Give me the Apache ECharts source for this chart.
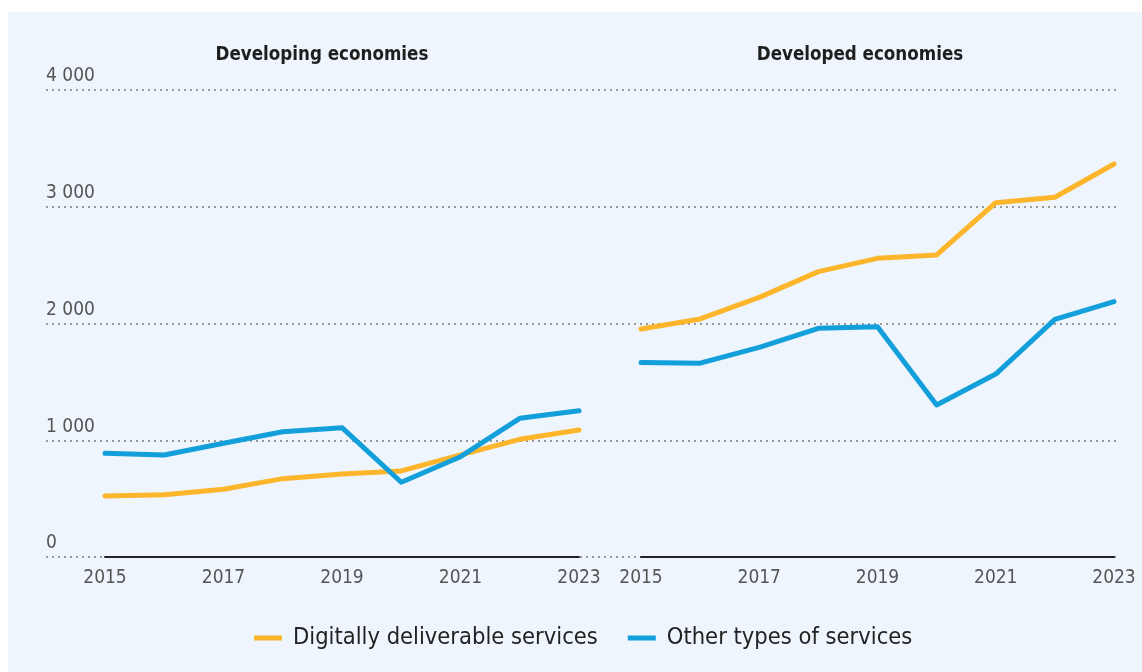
<!DOCTYPE html>
<html>
<head>
<meta charset="utf-8">
<script src="https://cdn.jsdelivr.net/npm/echarts@6/dist/echarts.min.js"></script>
<style>
  html, body { margin: 0; padding: 0; background: #ffffff; }
  #chart { width: 1142px; height: 672px; }
</style>
</head>
<body>
<div id="chart"></div>
<script>
// Services exports by type, billions of US dollars
const years = ['2015', '2016', '2017', '2018', '2019', '2020', '2021', '2022', '2023'];
const panelTitles = ['Developing economies', 'Developed economies'];
const seriesNames = ['Digitally deliverable services', 'Other types of services'];

const developingDigital = [522, 534, 580, 671, 711, 737, 874, 1008, 1088];
const developingOther = [888, 874, 974, 1073, 1108, 640, 859, 1188, 1253];
const developedDigital = [1953, 2039, 2224, 2444, 2558, 2587, 3035, 3081, 3366];
const developedOther = [1665, 1660, 1796, 1959, 1973, 1302, 1567, 2036, 2187];

const yTicks = [0, 1000, 2000, 3000, 4000];

const ORANGE = '#FDB52B';
const BLUE = '#129FDA';
const NARROW = '"DejaVu Sans Condensed", "Liberation Sans", sans-serif';

const chart = echarts.init(document.getElementById('chart'), null, { renderer: 'canvas' });

const fmt = v => String(v).replace(/\B(?=(\d{3})+(?!\d))/g, ' ');

const lineSeries = (name, data, axisIdx, color) => ({
  name: name,
  type: 'line',
  xAxisIndex: axisIdx,
  yAxisIndex: axisIdx,
  data: data,
  symbol: 'none',
  smooth: false,
  lineStyle: { color: color, width: 5, cap: 'round', join: 'round' },
  itemStyle: { color: color },
  emphasis: { disabled: true },
  z: 5
});

const panelX = (gridIndex) => ({
  type: 'category',
  gridIndex: gridIndex,
  data: years,
  boundaryGap: false,
  axisLine: { show: true, lineStyle: { color: '#222222', width: 2 } },
  axisTick: { show: false },
  axisLabel: {
    interval: 1,
    margin: 12,
    fontFamily: NARROW,
    fontSize: 19,
    color: '#555555'
  },
  splitLine: { show: false },
  z: 4
});

const panelY = (gridIndex) => ({
  type: 'value',
  gridIndex: gridIndex,
  min: 0,
  max: 4000,
  interval: 1000,
  show: false
});

const titleStyle = { fontFamily: NARROW, fontWeight: 'bold', fontSize: 18.6, color: '#1e1e1e' };

const option = {
  backgroundColor: '#ffffff',
  animation: false,
  graphic: [{
    type: 'rect',
    shape: { x: 8, y: 12, width: 1142 - 8, height: 672 - 12 },
    style: { fill: '#EEF5FC' },
    z: -10,
    silent: true
  }],
  title: [
    { text: panelTitles[0], left: 317, top: 41, textAlign: 'center', textStyle: titleStyle },
    { text: panelTitles[1], left: 855, top: 41, textAlign: 'center', textStyle: titleStyle }
  ],
  legend: {
    data: seriesNames,
    left: 249,
    top: 621,
    icon: 'rect',
    itemWidth: 28,
    itemHeight: 5,
    itemGap: 30,
    selectedMode: false,
    textStyle: {
      fontFamily: NARROW,
      fontSize: 23.5,
      color: '#222222',
      padding: [0, 0, 0, 6]
    }
  },
  grid: [
    // shared value axis with the dotted gridlines across both panels
    { left: 46, right: 26, top: 90, bottom: 115 },
    { left: 105, width: 474, top: 90, bottom: 115 },
    { left: 641, width: 473, top: 90, bottom: 115 }
  ],
  xAxis: [
    { type: 'value', gridIndex: 0, show: false, min: 0, max: 1 },
    panelX(1),
    panelX(2)
  ],
  yAxis: [
    {
      type: 'value',
      gridIndex: 0,
      min: yTicks[0],
      max: yTicks[yTicks.length - 1],
      interval: 1000,
      position: 'left',
      axisLine: { show: false },
      axisTick: { show: false },
      axisLabel: {
        inside: true,
        margin: 0,
        align: 'left',
        verticalAlign: 'bottom',
        padding: [0, 0, 4, 0],
        fontFamily: NARROW,
        fontSize: 19,
        color: '#555555',
        formatter: v => fmt(v)
      },
      splitLine: {
        show: true,
        lineStyle: { color: '#9a9a9a', width: 2, type: [2, 4] }
      }
    },
    panelY(1),
    panelY(2)
  ],
  series: [
    lineSeries(seriesNames[0], developingDigital, 1, ORANGE),
    lineSeries(seriesNames[1], developingOther, 1, BLUE),
    lineSeries(seriesNames[0], developedDigital, 2, ORANGE),
    lineSeries(seriesNames[1], developedOther, 2, BLUE)
  ]
};

chart.setOption(option);
</script>
</body>
</html>
